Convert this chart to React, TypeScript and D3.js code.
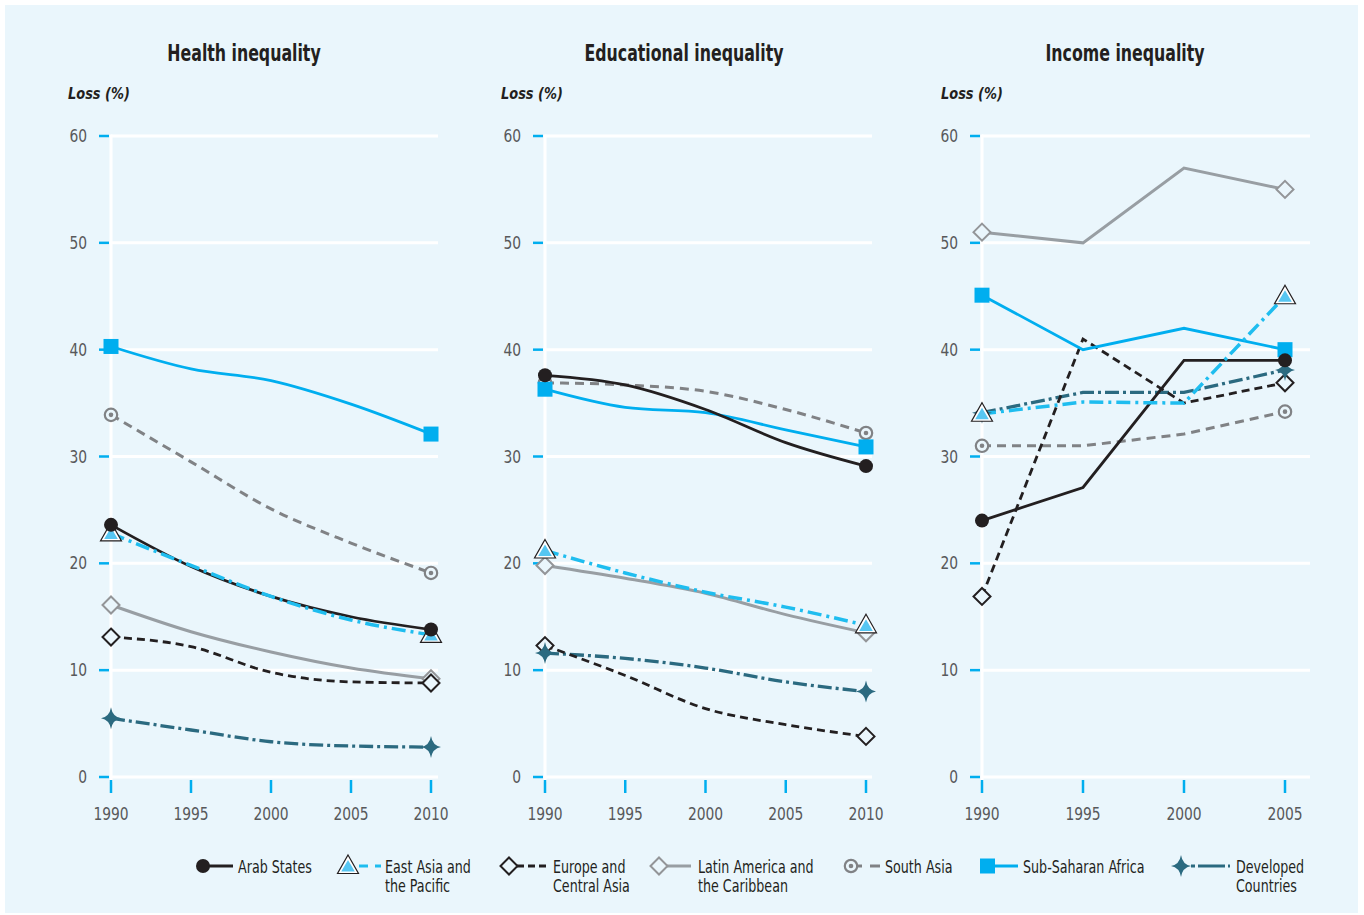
import React from "react";
import * as d3 from "d3";

const healthYears = [1990, 1995, 2000, 2005, 2010];
const eduYears = [1990, 1995, 2000, 2005, 2010];
const incomeYears = [1990, 1995, 2000, 2005];
const yTicks = [0, 10, 20, 30, 40, 50, 60];

const seriesNames = [
  "Arab States",
  "East Asia and the Pacific",
  "Europe and Central Asia",
  "Latin America and the Caribbean",
  "South Asia",
  "Sub-Saharan Africa",
  "Developed Countries",
];

const healthArab = [23.6, 19.7, 16.9, 15.0, 13.8];
const healthEastAsia = [22.8, 19.8, 16.9, 14.7, 13.3];
const healthEurope = [13.1, 12.2, 9.8, 8.9, 8.8];
const healthLatin = [16.1, 13.6, 11.7, 10.2, 9.2];
const healthSouthAsia = [33.9, 29.5, 25.1, 21.9, 19.1];
const healthSSA = [40.3, 38.2, 37.1, 34.9, 32.1];
const healthDeveloped = [5.5, 4.4, 3.3, 2.9, 2.8];

const eduArab = [37.6, 36.7, 34.4, 31.3, 29.1];
const eduEastAsia = [21.2, 19.1, 17.3, 15.9, 14.2];
const eduEurope = [12.3, 9.5, 6.4, 4.9, 3.8];
const eduLatin = [19.8, 18.6, 17.2, 15.2, 13.5];
const eduSouthAsia = [36.9, 36.7, 36.1, 34.4, 32.2];
const eduSSA = [36.3, 34.6, 34.1, 32.5, 30.9];
const eduDeveloped = [11.6, 11.1, 10.2, 8.9, 8.0];

const incArab = [24.0, 27.1, 39.0, 39.0];
const incEastAsia = [34.0, 35.1, 35.0, 45.0];
const incEurope = [16.9, 41.0, 35.0, 36.9];
const incLatin = [51.0, 50.0, 57.0, 55.0];
const incSouthAsia = [31.0, 31.0, 32.1, 34.2];
const incSSA = [45.1, 40.0, 42.0, 40.0];
const incDeveloped = [34.1, 36.0, 36.0, 38.1];

const FONT = "'Liberation Sans Narrow', 'DejaVu Sans Condensed', 'Roboto Condensed', sans-serif";

type Style = {
  color: string;
  width: number;
  dash?: string;
  marker: string;
};

const styles: Record<string, Style> = {
  "Arab States": { color: "#231f20", width: 2.8, marker: "circle" },
  "East Asia and the Pacific": { color: "#1fbdef", width: 3.5, dash: "14,5,3,5", marker: "triangle" },
  "Europe and Central Asia": { color: "#231f20", width: 2.8, dash: "8,5", marker: "diamond" },
  "Latin America and the Caribbean": { color: "#989ea3", width: 3, marker: "diamondGray" },
  "South Asia": { color: "#808285", width: 3, dash: "9,6", marker: "ring" },
  "Sub-Saharan Africa": { color: "#00aeef", width: 2.8, marker: "square" },
  "Developed Countries": { color: "#2b6a80", width: 3.3, dash: "14,4,3,4", marker: "star" },
};

const lineOrder = [
  "Latin America and the Caribbean",
  "South Asia",
  "Developed Countries",
  "Europe and Central Asia",
  "Sub-Saharan Africa",
  "Arab States",
  "East Asia and the Pacific",
];
const markerOrder = [
  "Latin America and the Caribbean",
  "South Asia",
  "Europe and Central Asia",
  "Developed Countries",
  "Sub-Saharan Africa",
  "East Asia and the Pacific",
  "Arab States",
];

const panels = [
  {
    title: "Health inequality",
    years: healthYears,
    x0: 111, x1: 431, gridEnd: 438, titleX: 244, lossX: 68,
    curve: d3.curveMonotoneX,
    data: {
      "Arab States": healthArab,
      "East Asia and the Pacific": healthEastAsia,
      "Europe and Central Asia": healthEurope,
      "Latin America and the Caribbean": healthLatin,
      "South Asia": healthSouthAsia,
      "Sub-Saharan Africa": healthSSA,
      "Developed Countries": healthDeveloped,
    } as Record<string, number[]>,
  },
  {
    title: "Educational inequality",
    years: eduYears,
    x0: 545, x1: 866, gridEnd: 872, titleX: 684, lossX: 501,
    curve: d3.curveMonotoneX,
    data: {
      "Arab States": eduArab,
      "East Asia and the Pacific": eduEastAsia,
      "Europe and Central Asia": eduEurope,
      "Latin America and the Caribbean": eduLatin,
      "South Asia": eduSouthAsia,
      "Sub-Saharan Africa": eduSSA,
      "Developed Countries": eduDeveloped,
    } as Record<string, number[]>,
  },
  {
    title: "Income inequality",
    years: incomeYears,
    x0: 982, x1: 1285, gridEnd: 1310, titleX: 1125, lossX: 941,
    curve: d3.curveLinear,
    data: {
      "Arab States": incArab,
      "East Asia and the Pacific": incEastAsia,
      "Europe and Central Asia": incEurope,
      "Latin America and the Caribbean": incLatin,
      "South Asia": incSouthAsia,
      "Sub-Saharan Africa": incSSA,
      "Developed Countries": incDeveloped,
    } as Record<string, number[]>,
  },
];

const y = d3.scaleLinear().domain([0, 60]).range([777, 136]);

function CText(props: {
  x: number; y: number; sx: number; children: React.ReactNode;
  anchor?: string; size: number; weight?: string; italic?: boolean; fill: string;
}) {
  return (
    <text
      transform={`translate(${props.x},${props.y}) scale(${props.sx},1)`}
      textAnchor={props.anchor || "start"}
      fontFamily={FONT}
      fontSize={props.size}
      fontWeight={props.weight || "normal"}
      fontStyle={props.italic ? "italic" : "normal"}
      fill={props.fill}
    >
      {props.children}
    </text>
  );
}

function Marker({ kind, x, yy }: { kind: string; x: number; yy: number }) {
  switch (kind) {
    case "circle":
      return <circle cx={x} cy={yy} r={7} fill="#231f20" />;
    case "triangle":
      return (
        <g>
          <path d={`M${x},${yy - 11} L${x + 10.5},${yy + 7.5} L${x - 10.5},${yy + 7.5} Z`} fill="#ffffff" stroke="#231f20" strokeWidth={1.2} />
          <path d={`M${x},${yy - 6} L${x + 6.8},${yy + 5.6} L${x - 6.8},${yy + 5.6} Z`} fill="#56c6f2" />
        </g>
      );
    case "diamond":
      return <path d={`M${x},${yy - 8.5} L${x + 8.5},${yy} L${x},${yy + 8.5} L${x - 8.5},${yy} Z`} fill="#eaf6fc" stroke="#231f20" strokeWidth={2} />;
    case "diamondGray":
      return <path d={`M${x},${yy - 8.5} L${x + 8.5},${yy} L${x},${yy + 8.5} L${x - 8.5},${yy} Z`} fill="#eaf6fc" stroke="#939598" strokeWidth={2} />;
    case "ring":
      return (
        <g>
          <circle cx={x} cy={yy} r={6.2} fill="#eaf6fc" stroke="#808285" strokeWidth={2.2} />
          <circle cx={x} cy={yy} r={2.3} fill="#808285" />
        </g>
      );
    case "square":
      return <rect x={x - 7.5} y={yy - 7.5} width={15} height={15} fill="#00aeef" />;
    case "star":
      return (
        <path
          d={`M${x},${yy - 11} Q${x + 1.5},${yy - 1.5} ${x + 10},${yy} Q${x + 1.5},${yy + 1.5} ${x},${yy + 11} Q${x - 1.5},${yy + 1.5} ${x - 10},${yy} Q${x - 1.5},${yy - 1.5} ${x},${yy - 11} Z`}
          fill="#2b6a80"
        />
      );
  }
  return null;
}

function Panel({ p }: { p: (typeof panels)[number] }) {
  const x = d3
    .scaleLinear()
    .domain([p.years[0], p.years[p.years.length - 1]])
    .range([p.x0, p.x1]);
  const line = d3
    .line<number>()
    .x((_, i) => x(p.years[i]))
    .y((v) => y(v))
    .curve(p.curve);
  const n = p.years.length;
  return (
    <g>
      <CText x={p.titleX} y={61} sx={0.78} anchor="middle" size={22.5} weight="bold" fill="#231f20">
        {p.title}
      </CText>
      <CText x={p.lossX} y={99} sx={0.9} size={16} weight="bold" italic fill="#231f20">
        Loss (%)
      </CText>
      {yTicks.map((t) => (
        <g key={t}>
          <line x1={p.x0} x2={p.gridEnd} y1={y(t)} y2={y(t)} stroke="#ffffff" strokeWidth={3} />
          <line x1={p.x0 - 12} x2={p.x0 - 2} y1={y(t)} y2={y(t)} stroke="#00aeef" strokeWidth={2.5} />
          <CText x={p.x0 - 24} y={y(t) + 6} sx={0.88} anchor="end" size={17.5} fill="#58595b">
            {t}
          </CText>
        </g>
      ))}
      <line x1={p.x0} x2={p.x0} y1={y(60) - 1.5} y2={y(0) + 5} stroke="#ffffff" strokeWidth={3} />
      {p.years.map((yr) => (
        <g key={yr}>
          <line x1={x(yr)} x2={x(yr)} y1={780} y2={793} stroke="#00aeef" strokeWidth={2.5} />
          <CText x={x(yr)} y={820} sx={0.88} anchor="middle" size={17.5} fill="#58595b">
            {yr}
          </CText>
        </g>
      ))}
      {lineOrder.map((name) => {
        const s = styles[name];
        return (
          <path
            key={name}
            d={line(p.data[name]) || ""}
            fill="none"
            stroke={s.color}
            strokeWidth={s.width}
            strokeDasharray={s.dash}
          />
        );
      })}
      {markerOrder.map((name) => {
        const s = styles[name];
        const vals = p.data[name];
        return (
          <g key={name}>
            <Marker kind={s.marker} x={x(p.years[0])} yy={y(vals[0])} />
            <Marker kind={s.marker} x={x(p.years[n - 1])} yy={y(vals[n - 1])} />
          </g>
        );
      })}
    </g>
  );
}

const legendItems = [
  { name: "Arab States", lines: ["Arab States"], mx: 203, l1: 203, l2: 233, tx: 238, dash: undefined as string | undefined },
  { name: "East Asia and the Pacific", lines: ["East Asia and", "the Pacific"], mx: 348, l1: 359, l2: 381, tx: 385, dash: "9,7,6" },
  { name: "Europe and Central Asia", lines: ["Europe and", "Central Asia"], mx: 509, l1: 517, l2: 550, tx: 553, dash: "7,4" },
  { name: "Latin America and the Caribbean", lines: ["Latin America and", "the Caribbean"], mx: 659, l1: 667, l2: 691, tx: 698, dash: undefined },
  { name: "South Asia", lines: ["South Asia"], mx: 851, l1: 857, l2: 881, tx: 885, dash: "5,8,10" },
  { name: "Sub-Saharan Africa", lines: ["Sub-Saharan Africa"], mx: 987.5, l1: 994, l2: 1018, tx: 1023, dash: undefined },
  { name: "Developed Countries", lines: ["Developed", "Countries"], mx: 1181, l1: 1191, l2: 1230, tx: 1236, dash: "4,3,27,3,4" },
];

export default function App() {
  return (
    <svg width={1364} height={915} style={{ position: "absolute", left: 0, top: 0 }}>
      <rect x={0} y={0} width={1364} height={915} fill="#ffffff" />
      <rect x={5} y={5} width={1353} height={908} fill="#eaf6fc" />
      {panels.map((p) => (
        <Panel key={p.title} p={p} />
      ))}
      {legendItems.map((it) => {
        const s = styles[it.name];
        return (
          <g key={it.name}>
            <line x1={it.l1} x2={it.l2} y1={866} y2={866} stroke={s.color} strokeWidth={3} strokeDasharray={it.dash} />
            <Marker kind={s.marker} x={it.mx} yy={866} />
            {it.lines.map((t, i) => (
              <CText key={i} x={it.tx} y={873 + i * 19} sx={0.83} size={17} fill="#231f20">
                {t}
              </CText>
            ))}
          </g>
        );
      })}
    </svg>
  );
}
